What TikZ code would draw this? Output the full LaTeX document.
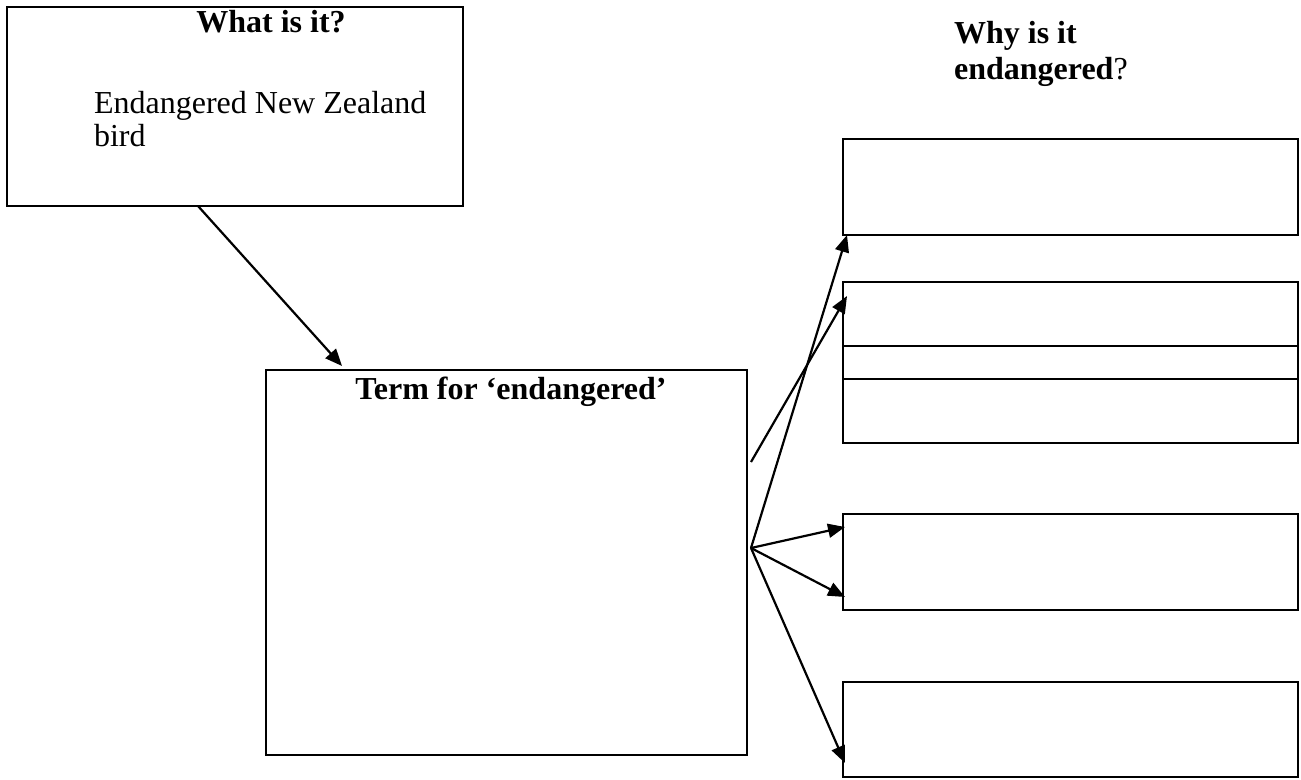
\documentclass[tikz,border=0pt]{standalone}
\usepackage{fontspec}
\setmainfont{Liberation Serif}
\usepackage{tikz}
\usetikzlibrary{arrows.meta,positioning,calc}

\begin{document}
\begin{tikzpicture}[x=1pt, y=-1pt, >={Triangle[length=17pt,width=14pt]}, line width=2.2pt, font=\fontsize{32}{36}\selectfont]
  \tikzset{card/.style={draw, inner sep=0, outer sep=0, anchor=north west},
           hdr/.style={anchor=base, inner sep=0, font=\fontsize{32}{36}\selectfont\bfseries},
           txt/.style={anchor=base west, inner sep=0}}
  \useasboundingbox (0,0) rectangle (1301,779);
  % what is it
  \node[card, minimum width=456pt, minimum height=199pt] (what) at (7,7) {};
  \node[hdr] (whatlbl) at (271,32) {What is it?};
  \node[txt] (birdline1) at (93,113) {Endangered New Zealand};
  \node[txt] (birdline2) at (93,146) {bird};
  % term
  \node[card, minimum width=481pt, minimum height=385pt] (term) at (266,370) {};
  \node[hdr] (termlbl) at (511,399) {Term for ‘endangered’};
  % why column
  \node[txt, font=\fontsize{32}{36}\selectfont\bfseries] (why1) at (953,43) {Why is it};
  \node[txt] (why2) at (953,79) {\textbf{endangered}?};
  \node[card, minimum width=455pt, minimum height=96pt] (reasonA) at (843,139) {};
  \node[card, minimum width=455pt, minimum height=64pt] (reasonB1) at (843,282) {};
  \node[card, minimum width=455pt, minimum height=33pt, below=0pt of reasonB1] (reasonB2) {};
  \node[card, minimum width=455pt, minimum height=64pt, below=0pt of reasonB2] (reasonB3) {};
  \node[card, minimum width=455pt, minimum height=96pt] (reasonC) at (843,514) {};
  \node[card, minimum width=455pt, minimum height=95pt] (reasonD) at (843,682) {};
  % arrows
  \draw[->] ($(what.south west)+(191,0)$) -- ($(term.north west)+(76,-4)$);
  \coordinate (fork1) at ($(term.north east)+(4,92)$);
  \coordinate (fork2) at ($(term.north east)+(4,178)$);
  \draw[->] (fork1) -- ($(reasonB1.north west)+(4,14)$);
  \draw[->] (fork2) -- ($(reasonA.south west)+(4,0)$);
  \draw[->] (fork2) -- ($(reasonC.north west)+(2,13)$);
  \draw[->] (fork2) -- ($(reasonC.south west)+(2,-13)$);
  \draw[->] (fork2) -- ($(reasonD.south west)+(2,-14)$);
\end{tikzpicture}
\end{document}
